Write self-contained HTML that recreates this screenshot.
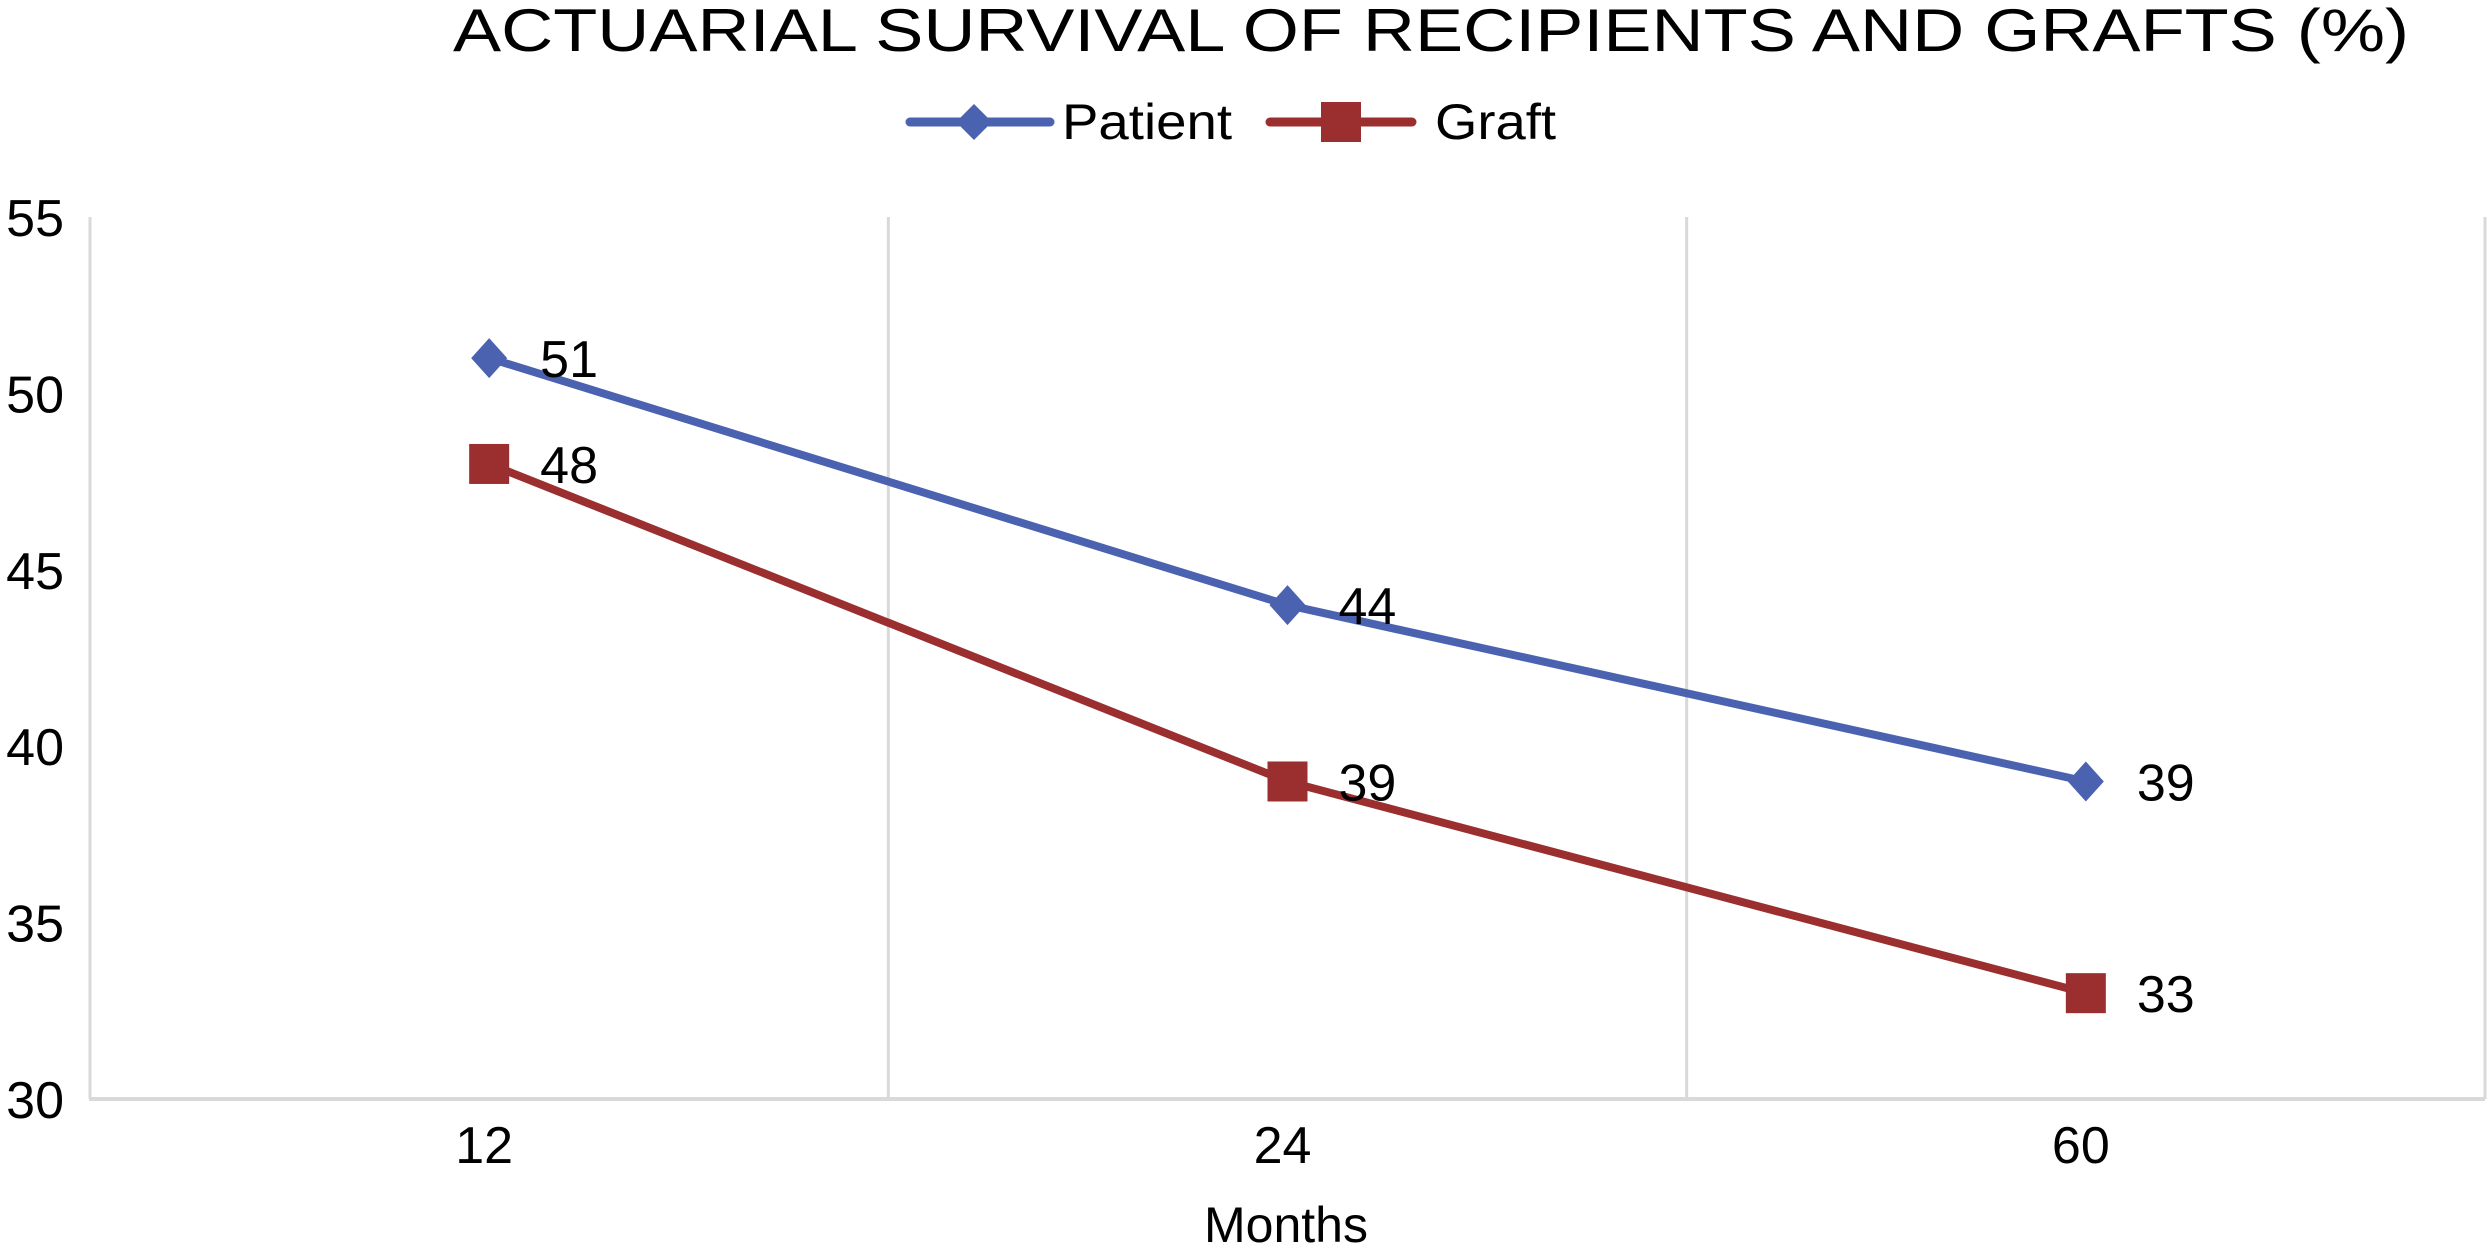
<!DOCTYPE html>
<html><head><meta charset="utf-8"><style>
html,body{margin:0;padding:0;background:#fff;}
svg{display:block;font-family:"Liberation Sans",Arial,sans-serif;}
</style></head><body>
<svg id="chart" width="2490" height="1250" viewBox="0 0 2490 1250">
<text x="453" y="51" font-size="60" textLength="1956" lengthAdjust="spacingAndGlyphs" fill="#000">ACTUARIAL SURVIVAL OF RECIPIENTS AND GRAFTS (%)</text>
<g>
<g>
<line x1="910" y1="122" x2="1050" y2="122" stroke="#4a62b0" stroke-width="9" stroke-linecap="round"/>
<polygon points="974,104 992,122 974,140 956,122" fill="#4a62b0"/>
<text x="1062" y="139" font-size="50" textLength="170" lengthAdjust="spacingAndGlyphs">Patient</text>
</g>
<g>
<line x1="1270" y1="122" x2="1412" y2="122" stroke="#9b2f2f" stroke-width="9" stroke-linecap="round"/>
<rect x="1321" y="102" width="40" height="40" fill="#9b2f2f"/>
<text x="1435" y="139" font-size="50" textLength="121" lengthAdjust="spacingAndGlyphs">Graft</text>
</g>
</g>
<g id="grid"></g>
<g id="yticks"></g>
<g id="xticks"></g>
<g id="series"></g>
<text x="1286" y="1242" font-size="50" text-anchor="middle">Months</text>
</svg>
<script>
const categories = ["12", "24", "60"];
const patientValues = [51, 44, 39];
const graftValues = [48, 39, 33];
const yTicks = [30, 35, 40, 45, 50, 55];

const NS = "http://www.w3.org/2000/svg";
const L = 90, R = 2485, T = 217, B = 1099, yMin = 30, yMax = 55;
const band = (R - L) / categories.length;
function xPos(i) { return L + band * (i + 0.5); }
function yPos(v) { return B - (v - yMin) / (yMax - yMin) * (B - T); }
function mk(tag, attrs, parent) {
  const el = document.createElementNS(NS, tag);
  for (const k in attrs) el.setAttribute(k, attrs[k]);
  parent.appendChild(el);
  return el;
}
const grid = document.getElementById("grid");
for (let i = 0; i <= categories.length; i++) {
  const x = L + band * i;
  const g = mk("line", {x1: x, y1: T, x2: x, y2: B, stroke: "#d9d9d9", "stroke-width": 3}, grid);
  
  
}
const ax = mk("line", {x1: L - 1, y1: B, x2: R, y2: B, stroke: "#d9d9d9", "stroke-width": 4}, grid);



const yt = document.getElementById("yticks");
yTicks.forEach(v => {
  const t = mk("text", {x: 64, y: yPos(v) + 19, "font-size": 52, "text-anchor": "end"}, yt);
  t.textContent = v;
  
  
});
const xt = document.getElementById("xticks");
categories.forEach((c, i) => {
  const t = mk("text", {x: xPos(i) - 5, y: 1163, "font-size": 52, "text-anchor": "middle"}, xt);
  t.textContent = c;
  
  
});

const series = document.getElementById("series");
function drawSeries(vals, color, marker, name) {
  const g = mk("g", {}, series);
  
  
  const pts = vals.map((v, i) => xPos(i) + "," + yPos(v)).join(" ");
  const pl = mk("polyline", {points: pts, fill: "none", stroke: color, "stroke-width": 8, "stroke-linejoin": "round"}, g);
  
  
  vals.forEach((v, i) => {
    const x = xPos(i), y = yPos(v);
    let m;
    if (marker === "diamond") {
      m = mk("polygon", {points: `${x},${y-20} ${x+18},${y} ${x},${y+20} ${x-18},${y}`, fill: color}, g);
    } else {
      m = mk("rect", {x: x - 20, y: y - 20, width: 40, height: 40, fill: color}, g);
    }
    
    
    const t = mk("text", {x: x + 51, y: y + 19, "font-size": 52}, g);
    t.textContent = v;
    
    
  });
}
drawSeries(patientValues, "#4a62b0", "diamond", "patient");
drawSeries(graftValues, "#9b2f2f", "square", "graft");
</script>
</body></html>
